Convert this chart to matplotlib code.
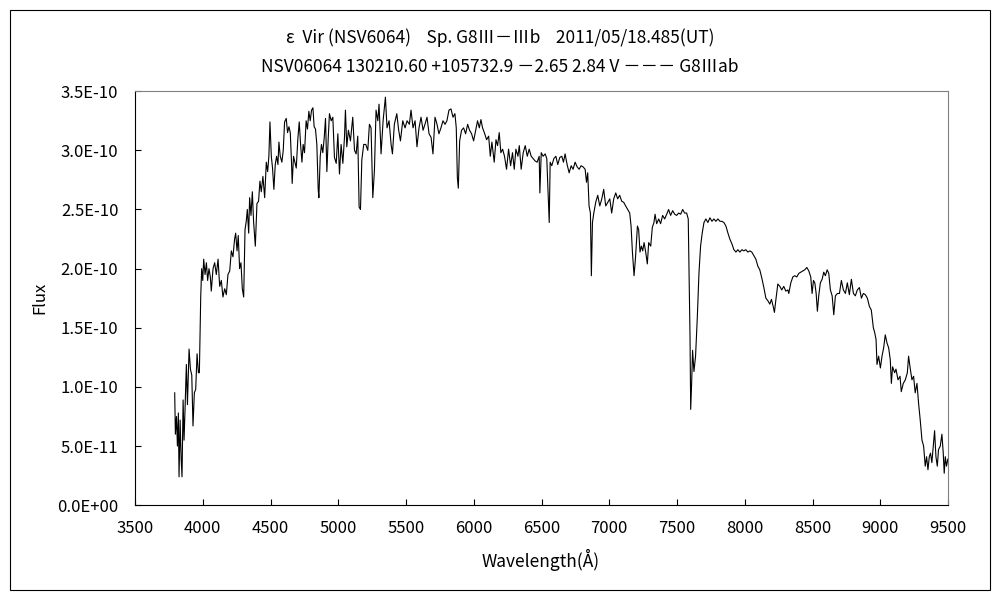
import matplotlib
matplotlib.use("Agg")
import matplotlib.pyplot as plt
from matplotlib.patches import Rectangle

plt.rcParams['font.family'] = ['Noto Sans CJK JP', 'DejaVu Sans']

title1 = "ε  Vir (NSV6064)    Sp. G8Ⅲ－Ⅲb    2011/05/18.485(UT)"
title2 = "NSV06064 130210.60 +105732.9 －2.65 2.84 V －－－ G8Ⅲab"

# spectrum, flux in units of 1E-11
wavelength = [
    3793, 3798, 3806, 3813, 3820, 3825, 3833, 3840, 3847, 3855, 3862, 3869, 3879, 3887, 3899, 3909,
    3919, 3928, 3938, 3948, 3958, 3968, 3975, 3980, 3985, 3992, 4000, 4007, 4017, 4027, 4036, 4046,
    4056, 4063, 4076, 4088, 4100, 4113, 4125, 4137, 4149, 4162, 4174, 4186, 4199, 4211, 4223, 4235,
    4243, 4253, 4262, 4272, 4282, 4292, 4302, 4312, 4321, 4329, 4339, 4346, 4356, 4366, 4375, 4388,
    4400, 4412, 4422, 4432, 4444, 4457, 4469, 4479, 4488, 4496, 4506, 4515, 4525, 4535, 4545, 4555,
    4562, 4572, 4584, 4594, 4604, 4616, 4626, 4636, 4646, 4655, 4660, 4670, 4680, 4690, 4702, 4712,
    4722, 4732, 4741, 4751, 4763, 4773, 4783, 4793, 4803, 4813, 4822, 4832, 4842, 4852, 4857, 4867,
    4876, 4886, 4896, 4906, 4916, 4926,
    4935, 4948, 4960, 4972, 4985, 4997, 5009, 5021, 5034, 5046, 5053, 5063, 5075, 5090, 5107, 5120,
    5132, 5144, 5154, 5164, 5174, 5188, 5203, 5218, 5230, 5242, 5255, 5267, 5279, 5292, 5301, 5316,
    5331, 5348, 5360, 5375, 5390, 5400, 5414, 5432, 5446, 5459, 5476, 5493, 5508, 5525, 5537, 5552,
    5567, 5581, 5596, 5611, 5626, 5640, 5655, 5670, 5685, 5699, 5714, 5729, 5743, 5758, 5773, 5788,
    5802, 5817, 5832, 5847, 5861, 5871, 5879, 5886, 5896, 5910, 5925, 5940, 5955, 5969, 5984, 5999,
    6014, 6028,
    6041, 6053, 6065, 6078, 6095, 6110, 6122, 6134, 6151, 6164, 6176, 6188, 6200, 6213, 6227, 6242,
    6257, 6272, 6286, 6299, 6311, 6326, 6336, 6350, 6365, 6380, 6395, 6409, 6424, 6439, 6453, 6468,
    6483, 6488, 6498, 6512, 6527, 6539, 6549, 6557, 6564, 6576, 6591, 6606, 6620, 6635, 6650, 6662,
    6674, 6689, 6704, 6719, 6733, 6748, 6763, 6778, 6792, 6807, 6822, 6832, 6841, 6851, 6861, 6868,
    6876, 6886, 6900, 6915, 6930, 6945, 6959, 6974, 6989, 7004, 7018, 7033, 7048, 7062, 7077, 7092,
    7107, 7121, 7136, 7151, 7161, 7171,
    7183, 7193, 7208, 7217, 7227, 7237, 7247, 7257, 7269, 7281, 7291, 7306, 7318, 7330, 7338, 7350,
    7365, 7379, 7394, 7409, 7424, 7438, 7453, 7468, 7483, 7497, 7512, 7527, 7542, 7556, 7571, 7583,
    7591, 7596, 7601, 7608, 7615, 7625, 7637, 7650, 7662, 7674, 7686, 7699, 7713, 7728, 7743, 7758,
    7772, 7787, 7802, 7817, 7831, 7846, 7861, 7876, 7890, 7905, 7920, 7935, 7949, 7964, 7979, 7993,
    8008, 8023, 8038, 8052, 8067, 8082, 8097, 8111, 8126, 8141, 8156, 8170, 8185, 8197, 8210, 8219,
    8229, 8244, 8259, 8273, 8288, 8303, 8318,
    8325, 8340, 8355, 8369, 8384, 8399, 8414, 8428, 8443, 8458, 8473, 8487, 8497, 8507, 8517, 8527,
    8536, 8546, 8558, 8571, 8583, 8595, 8608, 8620, 8632, 8645, 8657, 8669, 8684, 8699, 8713, 8728,
    8743, 8757, 8772, 8787, 8802, 8816, 8831, 8846, 8861, 8875, 8890, 8905, 8920, 8934, 8949, 8959,
    8969, 8976, 8988, 9001, 9013, 9025, 9037, 9050, 9062, 9074, 9082, 9091, 9106, 9116, 9131, 9146,
    9155, 9170, 9185, 9200, 9209, 9222, 9234, 9246, 9258, 9271, 9283, 9295, 9308, 9320, 9332, 9342,
    9352, 9362, 9371, 9381, 9391, 9401, 9411, 9421, 9430, 9443, 9455, 9465, 9472, 9480, 9489, 9499,
]
flux = [
    9.5, 6.0, 7.5, 5.0, 7.8, 2.4, 7.2, 4.1, 2.4, 8.9, 5.5, 8.0, 11.9, 8.5, 13.2, 11.5,
    11.0, 6.7, 9.5, 9.8, 12.8, 11.2, 11.2, 14.3, 17.6, 20.0, 19.0, 20.8, 19.5, 20.5, 19.0, 20.0,
    19.3, 18.1, 20.0, 20.5, 19.5, 20.8, 18.5, 19.0, 17.6, 18.3, 17.8, 19.5, 19.8, 21.5, 21.0, 22.5,
    23.0, 21.5, 22.8, 20.0, 20.5, 18.3, 17.6, 23.3, 24.0, 25.0, 23.0, 26.0, 24.5, 26.5, 24.0, 21.9,
    25.5, 25.7, 27.4, 26.5, 27.8, 26.0, 29.0, 28.2, 29.5, 32.4, 29.5, 28.5, 26.7, 28.8, 29.5, 28.8,
    30.7, 29.5, 29.0, 30.0, 32.4, 32.7, 31.5, 32.0, 31.5, 29.0, 27.2, 29.5, 29.0, 28.5, 31.0, 32.4,
    30.5, 29.0, 30.5, 29.8, 32.5, 31.8, 33.3, 32.5, 33.4, 33.6, 32.0, 31.8, 30.5, 26.7, 26.0, 29.5,
    30.5, 29.8, 31.0, 32.7, 28.2, 31.0,
    33.1, 32.5, 32.8, 29.4, 28.9, 31.4, 28.0, 30.5, 28.9, 31.1, 33.4, 30.3, 31.7, 30.8, 32.8, 30.0,
    29.7, 31.2, 25.2, 25.0, 29.2, 30.5, 30.5, 30.0, 32.2, 31.9, 26.0, 28.3, 33.4, 32.5, 33.9, 29.7,
    32.5, 34.5, 31.9, 32.5, 30.5, 29.7, 32.2, 33.1, 31.7, 30.8, 32.5, 31.9, 32.5, 32.2, 33.4, 31.9,
    32.5, 30.3, 31.9, 32.8, 31.7, 32.2, 32.8, 31.4, 31.1, 29.7, 32.8, 32.2, 31.4, 31.9, 32.5, 32.2,
    32.5, 33.4, 33.5, 32.8, 33.1, 31.9, 27.7, 26.8, 30.8, 31.7, 31.9, 31.4, 32.2, 31.7, 31.4, 30.8,
    31.7, 32.5,
    31.9, 32.6, 31.9, 31.5, 30.9, 31.2, 29.5, 30.7, 29.0, 30.9, 30.4, 31.5, 29.8, 30.1, 29.5, 28.4,
    30.1, 28.7, 29.8, 28.4, 30.1, 29.5, 30.4, 28.4, 29.8, 30.4, 29.5, 30.1, 29.5, 29.3, 29.1, 29.0,
    29.5, 26.4, 29.8, 29.5, 29.7, 29.3, 26.4, 23.9, 29.0, 28.7, 29.3, 29.5, 28.8, 29.4, 29.5, 29.0,
    29.7, 28.8, 28.1, 28.7, 28.4, 29.0, 28.6, 28.4, 28.7, 28.6, 28.4, 27.3, 28.1, 25.3, 24.7, 19.4,
    23.9, 24.7, 25.6, 26.2, 25.3, 25.9, 26.7, 25.3, 25.6, 25.9, 24.7, 25.9, 26.4, 25.9, 26.2, 25.7,
    25.6, 25.3, 25.0, 24.7, 23.6, 21.4,
    19.4, 20.8, 23.6, 23.3, 21.4, 21.9, 21.5, 22.2, 21.4, 20.4, 22.2, 21.9, 23.5, 23.9, 24.6, 23.8,
    24.2, 23.8, 24.5, 24.2, 24.6, 25.0, 24.5, 24.9, 24.6, 24.5, 24.7, 24.6, 25.0, 24.7, 24.7, 24.2,
    18.2, 14.3, 8.1, 10.3, 13.1, 11.3, 12.6, 15.9, 19.6, 21.9, 23.0, 23.9, 24.2, 23.9, 24.3, 24.0,
    24.2, 24.0, 24.2, 24.0, 24.0, 23.9, 23.6, 23.0, 22.5, 22.1, 21.6, 21.4, 21.6, 21.4, 21.6, 21.5,
    21.6, 21.4, 21.5, 21.4, 21.1, 20.8, 20.2, 19.9, 19.2, 18.4, 17.5, 17.3, 17.0, 17.4, 16.8, 16.3,
    17.3, 18.7, 18.5, 18.2, 18.5, 18.1, 18.2,
    17.9, 18.8, 19.3, 19.4, 19.3, 19.6, 19.7, 19.8, 19.9, 20.1, 19.8, 19.3, 17.9, 19.0, 18.8, 17.9,
    16.4, 17.7, 18.8, 19.1, 19.7, 19.4, 19.9, 19.6, 18.2, 17.7, 16.1, 17.7, 17.9, 17.9, 19.0, 18.2,
    17.9, 18.8, 17.8, 19.1, 17.9, 17.7, 18.2, 18.4, 17.5, 17.9, 17.8, 17.5, 16.8, 16.5, 15.0, 14.6,
    14.0, 11.9, 12.6, 11.6, 12.6, 13.3, 14.4, 13.7, 13.3, 12.3, 10.3, 11.7, 11.2, 11.5, 10.6, 10.9,
    9.6, 10.3, 10.6, 11.2, 12.6, 11.5, 10.6, 10.9, 9.5, 10.3, 8.6, 7.2, 5.5, 5.0, 3.3, 4.1,
    3.0, 4.1, 4.4, 3.6, 5.0, 6.3, 4.1, 3.3, 4.7, 5.0, 6.0, 4.4, 2.7, 4.1, 3.3, 3.9,
]

x_ticks = [3500, 4000, 4500, 5000, 5500, 6000, 6500, 7000, 7500, 8000, 8500, 9000, 9500]
y_ticks = [0.0, 5e-11, 1e-10, 1.5e-10, 2e-10, 2.5e-10, 3e-10, 3.5e-10]
y_labels = ["0.0E+00", "5.0E-11", "1.0E-10", "1.5E-10", "2.0E-10", "2.5E-10", "3.0E-10", "3.5E-10"]

fig = plt.figure(figsize=(10, 6), dpi=100)
ax = fig.add_axes([0.135, 0.158, 0.813, 0.690])

ax.plot(wavelength, [f * 1e-11 for f in flux], color="black", lw=0.8)

ax.set_xlim(3500, 9500)
ax.set_ylim(0, 3.5e-10)
ax.set_xticks(x_ticks)
ax.set_xticklabels([str(t) for t in x_ticks])
ax.set_yticks(y_ticks)
ax.set_yticklabels(y_labels)
ax.tick_params(direction="in", length=4, width=0.8, labelsize=12, colors="black")
ax.tick_params(axis="x", pad=11)
ax.tick_params(axis="y", pad=12)

for side in ["left", "bottom"]:
    ax.spines[side].set_color("black")
    ax.spines[side].set_linewidth(0.8)
for side in ["top", "right"]:
    ax.spines[side].set_color("#808080")
    ax.spines[side].set_linewidth(0.8)

fig.text(0.5, 0.938, title1, ha="center", va="center", fontsize=12.5)
fig.text(0.5, 0.888, title2, ha="center", va="center", fontsize=12.5)
fig.text(0.541, 0.067, "Wavelength(Å)", ha="center", va="center", fontsize=12.5)
fig.text(0.040, 0.503, "Flux", ha="center", va="center", rotation=90, fontsize=12)

# outer frame round the whole chart
fig.patches.append(Rectangle((0.01, 0.016), 0.98, 0.968, transform=fig.transFigure,
                             fill=False, edgecolor="black", lw=0.8))

fig.savefig("out.png", dpi=100)
